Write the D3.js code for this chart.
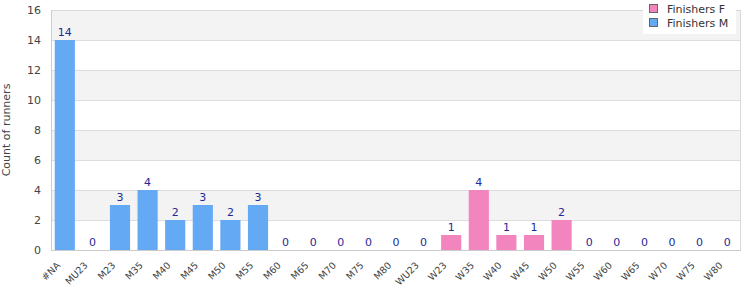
<!DOCTYPE html>
<html><head><meta charset="utf-8">
<script src="https://cdn.jsdelivr.net/npm/d3@7"></script>
<style>body{margin:0;background:#fff;} text{font-family:"DejaVu Sans",Verdana,sans-serif;}</style>
</head><body>
<svg id="c" width="750" height="300"></svg>
<script>
const categories = ["#NA","MU23","M23","M35","M40","M45","M50","M55","M60","M65","M70","M75","M80","WU23","W23","W35","W40","W45","W50","W55","W60","W65","W70","W75","W80"];
const finishersM = [14,0,3,4,2,3,2,3,0,0,0,0,0,0,0,0,0,0,0,0,0,0,0,0,0];
const finishersF = [0,0,0,0,0,0,0,0,0,0,0,0,0,0,1,4,1,1,2,0,0,0,0,0,0];
const yTicks = [0,2,4,6,8,10,12,14,16];
const seriesNames = ["Finishers F","Finishers M"];
const colors = {"Finishers F":"#f285bd","Finishers M":"#63a9f4"};

const svg = d3.select("#c");
const m = {l:51, r:9, t:10, b:50};
const W = 750, H = 300;
const x = d3.scaleBand().domain(categories).range([m.l, W-m.r]).paddingInner(0.27).paddingOuter(0.135);
const y = d3.scaleLinear().domain([0,16]).range([H-m.b, m.t]);

// alternating bands
for (let i=0;i<yTicks.length-1;i++){
  if (i%2===1){
    svg.append("rect").attr("x",m.l).attr("width",W-m.r-m.l)
      .attr("y",y(yTicks[i+1])).attr("height",y(yTicks[i])-y(yTicks[i+1])).attr("fill","#f3f3f3");
  }
}
// gridlines
svg.append("g").selectAll("line").data(yTicks.slice(1)).join("line")
  .attr("x1",m.l).attr("x2",W-m.r).attr("y1",d=>y(d)+0.5).attr("y2",d=>y(d)+0.5)
  .attr("stroke","#dddddd");
// border
svg.append("rect").attr("x",m.l+0.5).attr("y",m.t+0.5).attr("width",W-m.r-m.l-1).attr("height",y(0)-m.t)
  .attr("fill","none").attr("stroke","#d8d8d8");

// bars (stacked)
const data = categories.map((c,i)=>({cat:c,"Finishers F":finishersF[i],"Finishers M":finishersM[i]}));
const stack = d3.stack().keys(seriesNames)(data);
svg.append("g").selectAll("g").data(stack).join("g").attr("fill",d=>colors[d.key])
  .selectAll("rect").data(d=>d).join("rect")
  .attr("x",d=>x(d.data.cat)).attr("width",x.bandwidth())
  .attr("y",d=>y(d[1])).attr("height",d=>y(d[0])-y(d[1]));

// value labels
svg.append("g").selectAll("text").data(data).join("text")
  .attr("x",d=>x(d.cat)+x.bandwidth()/2)
  .attr("y",d=>y(d["Finishers F"]+d["Finishers M"])-4.5)
  .attr("text-anchor","middle").attr("font-size",11).attr("fill","#1e2a96")
  .text(d=>d["Finishers F"]+d["Finishers M"]);

// bottom axis line
svg.append("line").attr("x1",m.l).attr("x2",W-m.r).attr("y1",y(0)+0.5).attr("y2",y(0)+0.5).attr("stroke","#cccccc");

// y axis
const yAx = svg.append("g").attr("transform",`translate(${m.l},0)`)
  .call(d3.axisLeft(y).tickValues(yTicks).tickSize(0).tickPadding(10));
yAx.select(".domain").attr("stroke","#cccccc");
yAx.selectAll("text").attr("font-size",11).attr("fill","#444").attr("font-family","DejaVu Sans, sans-serif");

// x labels (rotated -45 deg)
svg.append("g").selectAll("text").data(categories).join("text")
  .attr("transform",d=>`translate(${x(d)+x.bandwidth()/2-4},${y(0)+16}) rotate(-45)`)
  .attr("text-anchor","end").attr("font-size",9.5).attr("fill","#444")
  .text(d=>d);

// y title
svg.append("text").attr("transform",`translate(10,${(m.t+y(0))/2}) rotate(-90)`)
  .attr("text-anchor","middle").attr("font-size",11).attr("fill","#444").text("Count of runners");

// legend
const lg = svg.append("g");
lg.append("rect").attr("x",643).attr("y",0).attr("width",93).attr("height",34).attr("fill","#fff");
seriesNames.forEach((s,i)=>{
  lg.append("rect").attr("x",649.5).attr("y",4.5+i*14).attr("width",8).attr("height",8)
    .attr("fill",colors[s]).attr("stroke","#666");
  lg.append("text").attr("x",667).attr("y",12.5+i*14).attr("font-size",11).attr("fill","#333").text(s);
});
</script>
</body></html>
